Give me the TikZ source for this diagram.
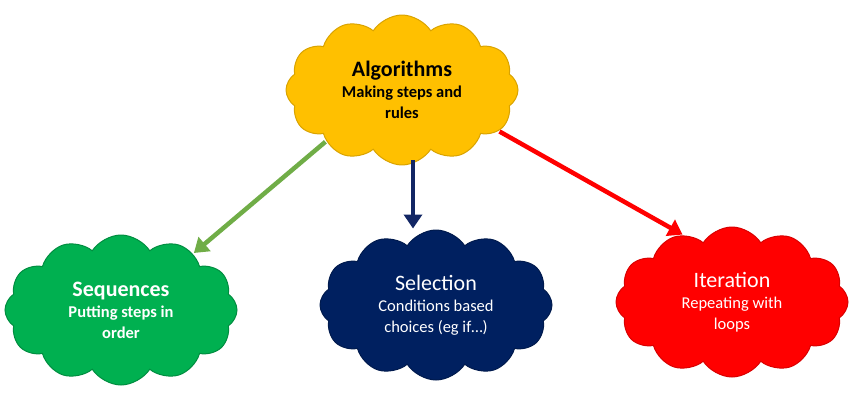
\documentclass[tikz,border=0pt]{standalone}
\usepackage{fontspec}
\setmainfont{Carlito}
\usepackage{tikz}
\usetikzlibrary{arrows.meta, positioning, shapes.symbols}

\tikzset{
  puff/.style={cloud, cloud puffs=12, cloud puff arc=115, aspect=1.6,
    minimum width=232pt, minimum height=150pt, align=center,
    line width=1pt, inner sep=0pt,
    font=\fontsize{16.5}{21}\selectfont},
  link/.style={line width=4.5pt, -{Triangle[length=14pt,width=18pt]},
    shorten <=1pt, shorten >=1pt}
}
\newcommand{\headline}[1]{{\fontsize{22}{25}\selectfont #1}}

\begin{document}
\begin{tikzpicture}[x=1pt, y=-1pt]
  % 範圍
  \useasboundingbox (0,0) rectangle (863,415);

  % 顏色
  \definecolor{algoyellow}{RGB}{255,192,0}
  \definecolor{seqgreen}{RGB}{0,176,80}
  \definecolor{selnavy}{RGB}{0,32,96}
  \definecolor{iterred}{RGB}{255,0,0}
  \definecolor{linkgreen}{RGB}{112,173,71}
  \definecolor{linknavy}{RGB}{18,38,100}

  % 雲
  \node[puff, fill=algoyellow, draw=algoyellow!85!black, font=\bfseries\fontsize{16.5}{21}\selectfont]
    (algo) at (402,90)
    {\headline{Algorithms}\\ Making steps and\\ rules};
  \node[puff, fill=seqgreen, draw=seqgreen!80!black, text=white, font=\bfseries\fontsize{16.5}{21}\selectfont]
    (seq) at (121,310)
    {\headline{Sequences}\\ Putting steps in\\ order};
  \node[puff, fill=selnavy, draw=selnavy!80!black, text=white] (sel) at (436,305)
    {\headline{Selection}\\ Conditions based\\ choices (eg if\dots)};
  \node[puff, fill=iterred, draw=iterred!85!black, text=white] (iter) at (732,302)
    {\headline{Iteration}\\ Repeating with\\ loops};

  % 箭頭
  \draw[link, linkgreen] (algo.214) -- (seq.38);
  \path (algo.south) ++(11,-6) coordinate (selfrom);
  \draw[link, linknavy] (selfrom) -- (selfrom |- sel.north);
  \draw[link, iterred] (algo.-23) -- (iter.126);
\end{tikzpicture}
\end{document}
